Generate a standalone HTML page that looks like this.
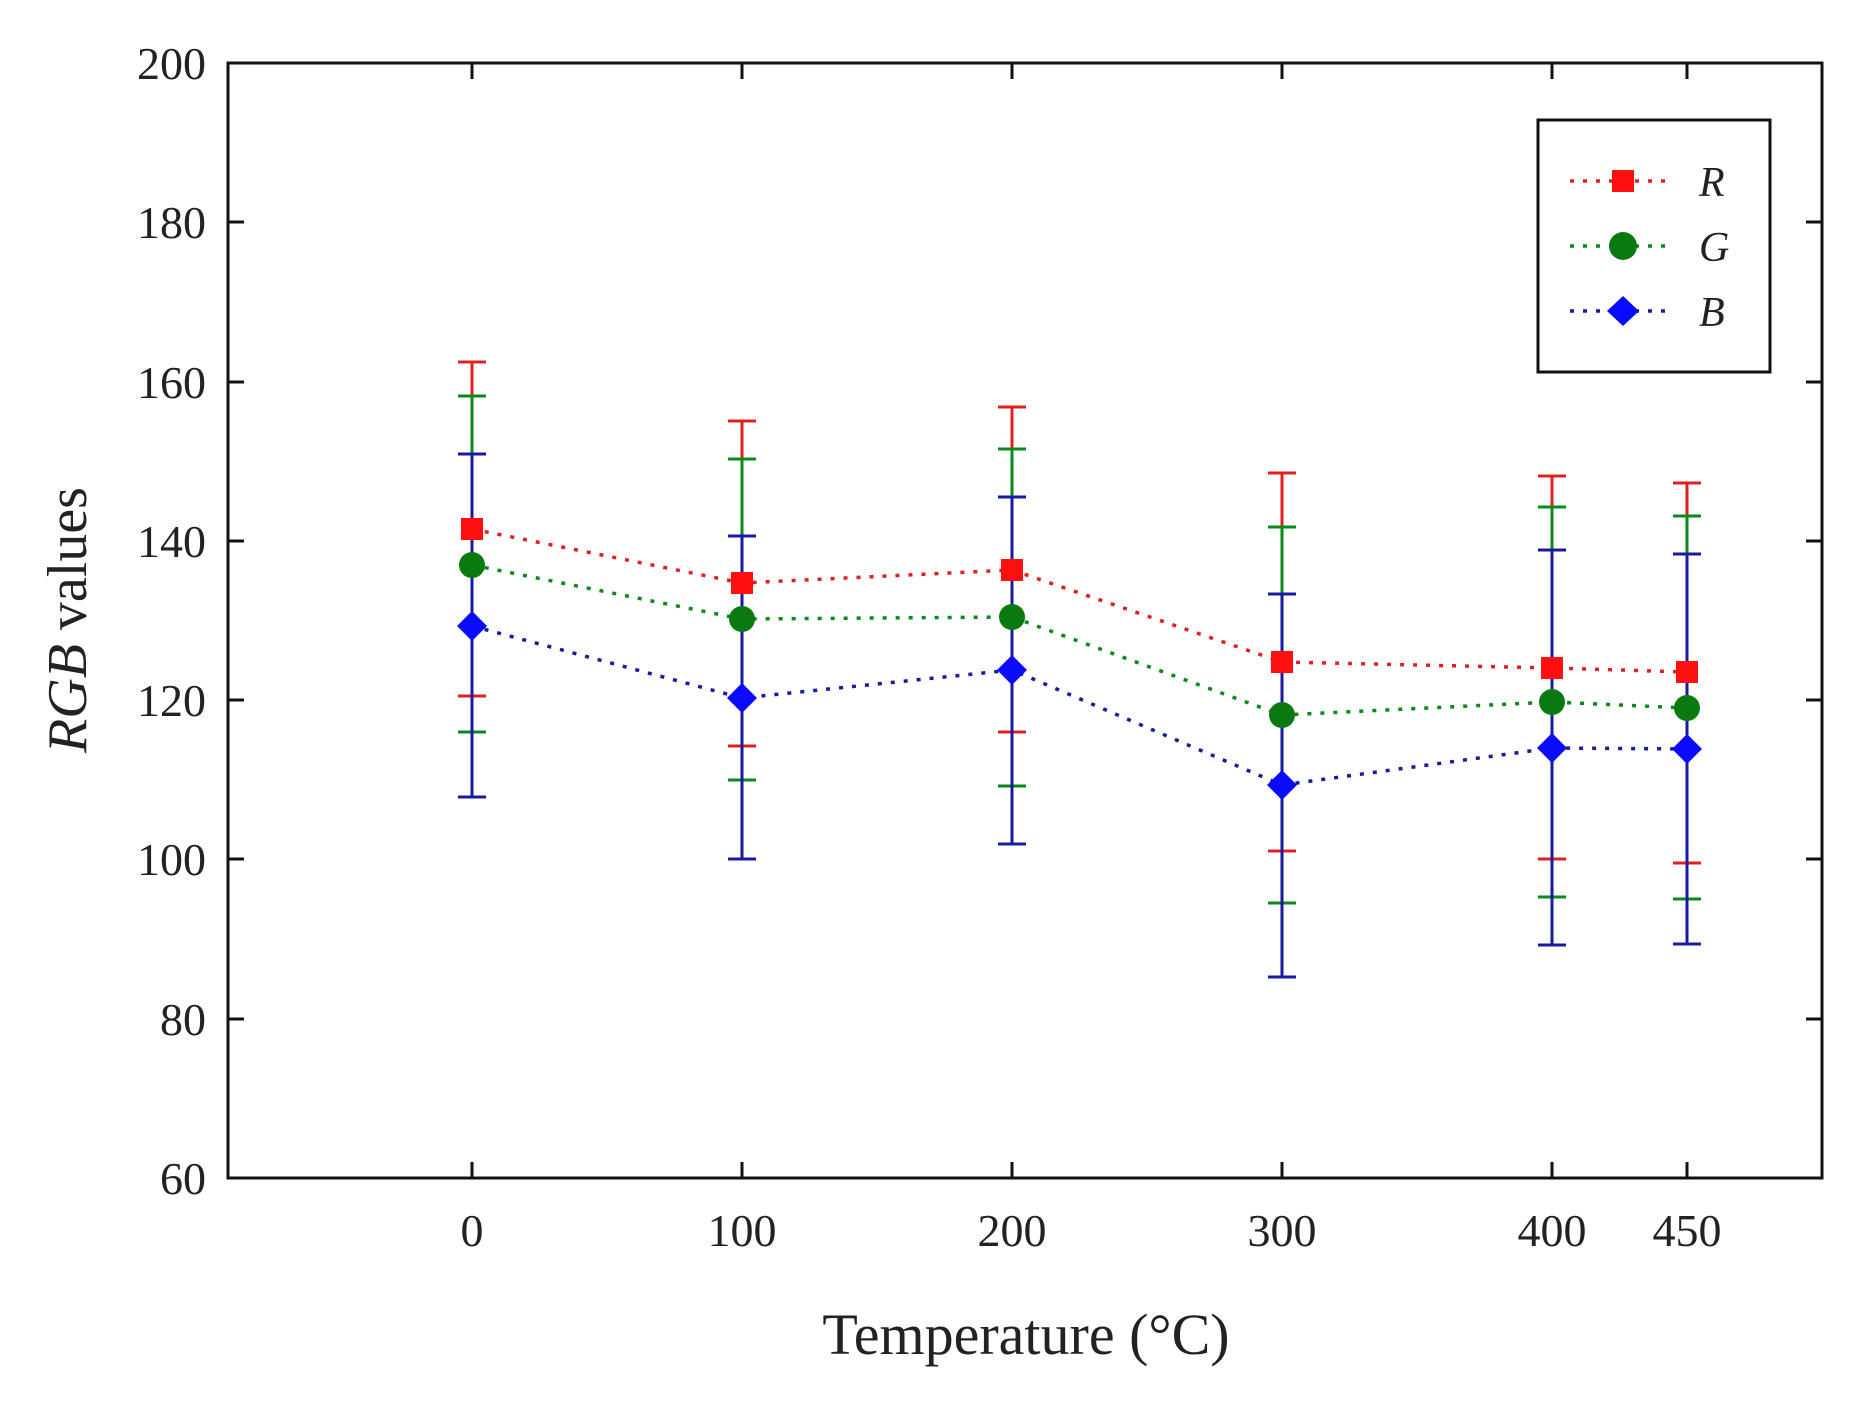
<!DOCTYPE html>
<html><head><meta charset="utf-8"><style>
html,body{margin:0;padding:0;background:#fff;}
svg{display:block;}
text{font-family:"Liberation Serif",serif;fill:#222;}
</style></head><body>
<svg width="1865" height="1417" viewBox="0 0 1865 1417" xmlns="http://www.w3.org/2000/svg">
<rect width="1865" height="1417" fill="#fff"/>
<rect x="228" y="63" width="1594" height="1115" fill="none" stroke="#111" stroke-width="3"/>
<g stroke="#111" stroke-width="3">
<line x1="228" y1="222" x2="244" y2="222"/><line x1="1822" y1="222" x2="1806" y2="222"/>
<line x1="228" y1="382" x2="244" y2="382"/><line x1="1822" y1="382" x2="1806" y2="382"/>
<line x1="228" y1="541" x2="244" y2="541"/><line x1="1822" y1="541" x2="1806" y2="541"/>
<line x1="228" y1="700" x2="244" y2="700"/><line x1="1822" y1="700" x2="1806" y2="700"/>
<line x1="228" y1="859" x2="244" y2="859"/><line x1="1822" y1="859" x2="1806" y2="859"/>
<line x1="228" y1="1019" x2="244" y2="1019"/><line x1="1822" y1="1019" x2="1806" y2="1019"/>
<line x1="472" y1="1178" x2="472" y2="1162"/><line x1="472" y1="63" x2="472" y2="79"/>
<line x1="742" y1="1178" x2="742" y2="1162"/><line x1="742" y1="63" x2="742" y2="79"/>
<line x1="1012" y1="1178" x2="1012" y2="1162"/><line x1="1012" y1="63" x2="1012" y2="79"/>
<line x1="1282" y1="1178" x2="1282" y2="1162"/><line x1="1282" y1="63" x2="1282" y2="79"/>
<line x1="1552" y1="1178" x2="1552" y2="1162"/><line x1="1552" y1="63" x2="1552" y2="79"/>
<line x1="1687" y1="1178" x2="1687" y2="1162"/><line x1="1687" y1="63" x2="1687" y2="79"/>
</g>
<g font-size="46" text-anchor="end">
<text x="206" y="79">200</text><text x="206" y="238">180</text><text x="206" y="398">160</text>
<text x="206" y="557">140</text><text x="206" y="716">120</text><text x="206" y="875">100</text>
<text x="206" y="1035">80</text><text x="206" y="1194">60</text>
</g>
<g font-size="46" text-anchor="middle">
<text x="472" y="1246">0</text><text x="742" y="1246">100</text><text x="1012" y="1246">200</text>
<text x="1282" y="1246">300</text><text x="1552" y="1246">400</text><text x="1687" y="1246">450</text>
</g>
<text x="1026" y="1354" font-size="58" text-anchor="middle">Temperature (°C)</text>
<text transform="translate(86,620) rotate(-90)" font-size="56" text-anchor="middle"><tspan font-style="italic">RGB</tspan> values</text>

<g stroke="#e02020" stroke-width="3">
<path d="M472 362V696M458 362H486M458 696H486"/>
<path d="M742 421V746M728 421H756M728 746H756"/>
<path d="M1012 407V732M998 407H1026M998 732H1026"/>
<path d="M1282 473V851M1268 473H1296M1268 851H1296"/>
<path d="M1552 476V859M1538 476H1566M1538 859H1566"/>
<path d="M1687 483V863M1673 483H1701M1673 863H1701"/>
</g>
<g stroke="#0a8a1a" stroke-width="3">
<path d="M472 396V732M458 396H486M458 732H486"/>
<path d="M742 459V780M728 459H756M728 780H756"/>
<path d="M1012 449V786M998 449H1026M998 786H1026"/>
<path d="M1282 527V903M1268 527H1296M1268 903H1296"/>
<path d="M1552 507V897M1538 507H1566M1538 897H1566"/>
<path d="M1687 516V899M1673 516H1701M1673 899H1701"/>
</g>
<g stroke="#1a1aa0" stroke-width="3">
<path d="M472 454V797M458 454H486M458 797H486"/>
<path d="M742 536V859M728 536H756M728 859H756"/>
<path d="M1012 497V844M998 497H1026M998 844H1026"/>
<path d="M1282 594V977M1268 594H1296M1268 977H1296"/>
<path d="M1552 550V945M1538 550H1566M1538 945H1566"/>
<path d="M1687 554V944M1673 554H1701M1673 944H1701"/>
</g>
<polyline fill="none" stroke="#e02020" stroke-width="3.5" stroke-dasharray="4 9" points="472,529 742,583 1012,570 1282,662 1552,668 1687,672"/>
<polyline fill="none" stroke="#0a8a1a" stroke-width="3.5" stroke-dasharray="4 9" points="472,565 742,619 1012,617 1282,715 1552,702 1687,708"/>
<polyline fill="none" stroke="#1a1aa0" stroke-width="3.5" stroke-dasharray="4 9" points="472,626 742,698 1012,670 1282,785 1552,748 1687,749"/>
<g fill="#ff1010">
<rect x="461" y="518" width="22" height="22"/><rect x="731" y="572" width="22" height="22"/>
<rect x="1001" y="559" width="22" height="22"/><rect x="1271" y="651" width="22" height="22"/>
<rect x="1541" y="657" width="22" height="22"/><rect x="1676" y="661" width="22" height="22"/>
</g>
<g fill="#0a7a10">
<circle cx="472" cy="565" r="13"/><circle cx="742" cy="619" r="13"/><circle cx="1012" cy="617" r="13"/>
<circle cx="1282" cy="715" r="13"/><circle cx="1552" cy="702" r="13"/><circle cx="1687" cy="708" r="13"/>
</g>
<g fill="#0a0aff">
<path d="M472 611l15 15-15 15-15-15z"/><path d="M742 683l15 15-15 15-15-15z"/>
<path d="M1012 655l15 15-15 15-15-15z"/><path d="M1282 770l15 15-15 15-15-15z"/>
<path d="M1552 733l15 15-15 15-15-15z"/><path d="M1687 734l15 15-15 15-15-15z"/>
</g>
<rect x="1538" y="120" width="232" height="252" fill="#fff" stroke="#111" stroke-width="3"/>
<line x1="1570" y1="181" x2="1674" y2="181" stroke="#e02020" stroke-width="3.5" stroke-dasharray="4 9"/>
<rect x="1612" y="170" width="22" height="22" fill="#ff1010"/>
<line x1="1570" y1="246" x2="1674" y2="246" stroke="#0a8a1a" stroke-width="3.5" stroke-dasharray="4 9"/>
<circle cx="1623" cy="246" r="14" fill="#0a7a10"/>
<line x1="1570" y1="311" x2="1674" y2="311" stroke="#1a1aa0" stroke-width="3.5" stroke-dasharray="4 9"/>
<path d="M1623 296l16 15-16 15-16-15z" fill="#0a0aff"/>
<g font-size="42" font-style="italic">
<text x="1699" y="196">R</text><text x="1699" y="261">G</text><text x="1699" y="326">B</text>
</g>
</svg>
</body></html>
